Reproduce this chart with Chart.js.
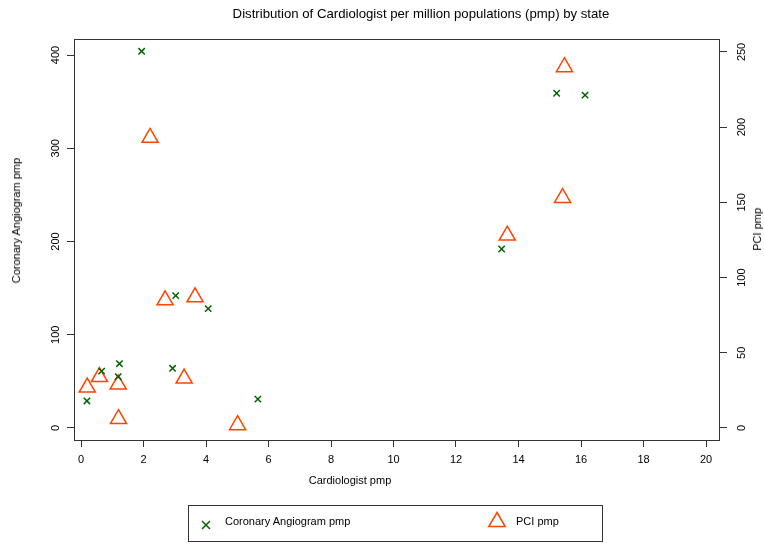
<!DOCTYPE html>
<html lang="en">
<head>
    <meta charset="UTF-8">
    <title>Cardiologist pmp by state</title>
    <script src="https://cdn.jsdelivr.net/npm/chart.js"></script>
    <style>
        body { margin: 0; background: #fff; }
        #wrap { position: relative; width: 764px; height: 546px; font-family: "Liberation Sans", Arial, sans-serif; color: #000; }
        #grafico { position: absolute; left: 0; top: 0; }
        .txt { position: absolute; white-space: nowrap; font-size: 11px; line-height: 1; }
        .vert { writing-mode: vertical-rl; transform: rotate(180deg); }
        #titulo { left: 421px; top: 7px; transform: translateX(-50%); font-size: 13.2px; }
        #tituloX { left: 350px; top: 475px; transform: translateX(-50%); }
        #tituloY { left: 11px; top: 158px; }
        #tituloY2 { left: 752px; top: 208px; }
        #legenda { position: absolute; left: 188px; top: 505px; width: 413px; height: 35px; border: 1px solid #333; }
        #legenda svg { position: absolute; }
    </style>
</head>
<body>
    <div id="wrap">
        <canvas id="grafico" width="764" height="546"></canvas>
        <div class="txt" id="titulo">Distribution of Cardiologist per million populations (pmp) by state</div>
        <div class="txt" id="tituloX">Cardiologist pmp</div>
        <div class="txt vert" id="tituloY">Coronary Angiogram pmp</div>
        <div class="txt vert" id="tituloY2">PCI pmp</div>
        <div id="legenda">
            <svg style="left:12px; top:14px" width="10" height="10">
                <path d="M1 1 L9 9 M9 1 L1 9" stroke="#006400" stroke-width="1.5" />
            </svg>
            <div class="txt" style="left:36px; top:10px">Coronary Angiogram pmp</div>
            <svg style="left:298px; top:5px" width="20" height="18">
                <path d="M10 1.5 L18.2 15.5 L1.8 15.5 Z" fill="none" stroke="#ff4500" stroke-width="1.5" />
            </svg>
            <div class="txt" style="left:327px; top:10px">PCI pmp</div>
        </div>
    </div>

<script>
    // valores
    const cardioAngio = [0.19, 0.66, 1.19, 1.23, 1.94, 2.93, 3.03, 4.07, 5.66, 13.46, 15.22, 16.13];
    const angiograma = [29, 61, 55, 69, 404, 64, 142, 128, 31, 192, 359, 357];

    const cardioPci = [0.20, 0.59, 1.19, 1.20, 2.21, 2.69, 3.30, 3.65, 5.01, 13.64, 15.41, 15.47];
    const pci = [27, 34, 29, 6, 193, 85, 33, 87, 2, 128, 153, 240];

    const ticksX = [0, 2, 4, 6, 8, 10, 12, 14, 16, 18, 20];
    const ticksY = [0, 100, 200, 300, 400];
    const ticksY2 = [0, 50, 100, 150, 200, 250];

    function juntar(xs, ys) {
        let pontos = [];
        for (let i = 0; i < xs.length; i++) {
            pontos.push({ x: xs[i], y: ys[i] });
        }
        return pontos;
    }

    function fixarTicks(lista) {
        return function (scale) {
            scale.ticks = lista.map(v => ({ value: v }));
        };
    }

    const corEixo = '#333';

    // caixa + rotulos verticais dos eixos y
    const desenharEixos = {
        id: 'desenharEixos',
        afterDraw(chart) {
            const ctx = chart.ctx;
            const area = chart.chartArea;
            ctx.save();
            ctx.strokeStyle = corEixo;
            ctx.lineWidth = 1;
            ctx.strokeRect(area.left + 0.5, area.top + 0.5, area.right - area.left - 1, area.bottom - area.top);
            ctx.fillStyle = '#000';
            ctx.font = '11px "Liberation Sans", Arial, sans-serif';
            ctx.textAlign = 'center';
            ctx.textBaseline = 'middle';
            const eixos = [['y', ticksY, 56], ['y2', ticksY2, 742]];
            eixos.forEach(function (e) {
                const escala = chart.scales[e[0]];
                e[1].forEach(function (v) {
                    ctx.save();
                    ctx.translate(e[2], escala.getPixelForValue(v));
                    ctx.rotate(-Math.PI / 2);
                    ctx.fillText(String(v), 0, 0);
                    ctx.restore();
                });
            });
            ctx.restore();
        }
    };

    const gradeEixo = { display: true, drawOnChartArea: false, drawTicks: true, tickLength: 7, color: corEixo };

    const config = {
        type: 'scatter',
        data: {
            datasets: [{
                label: 'Coronary Angiogram pmp',
                data: juntar(cardioAngio, angiograma),
                yAxisID: 'y',
                pointStyle: 'crossRot',
                pointRadius: 4.5,
                pointBorderColor: '#006400',
                pointBorderWidth: 1.5,
                pointBackgroundColor: '#006400'
            }, {
                label: 'PCI pmp',
                data: juntar(cardioPci, pci),
                yAxisID: 'y2',
                pointStyle: 'triangle',
                pointRadius: 9.3,
                pointBorderColor: '#ff4500',
                pointBorderWidth: 1.5,
                pointBackgroundColor: 'rgba(0,0,0,0)'
            }]
        },
        options: {
            responsive: false,
            animation: false,
            layout: { padding: { left: 0, right: 0, top: 39, bottom: 0 } },
            plugins: {
                legend: { display: false },
                tooltip: { enabled: false }
            },
            scales: {
                x: {
                    type: 'linear',
                    min: -0.224,
                    max: 20.448,
                    afterBuildTicks: fixarTicks(ticksX),
                    afterFit: function (s) { s.height = 106; },
                    grid: gradeEixo,
                    border: { display: false },
                    ticks: {
                        color: '#000',
                        padding: 6,
                        maxRotation: 0,
                        font: { family: '"Liberation Sans", Arial, sans-serif', size: 11 }
                    }
                },
                y: {
                    type: 'linear',
                    position: 'left',
                    min: -12.87,
                    max: 417.2,
                    afterBuildTicks: fixarTicks(ticksY),
                    afterFit: function (s) { s.width = 74; },
                    grid: gradeEixo,
                    border: { display: false },
                    ticks: { display: false }
                },
                y2: {
                    type: 'linear',
                    position: 'right',
                    min: -7.98,
                    max: 258.6,
                    afterBuildTicks: fixarTicks(ticksY2),
                    afterFit: function (s) { s.width = 44; },
                    grid: gradeEixo,
                    border: { display: false },
                    ticks: { display: false }
                }
            }
        },
        plugins: [desenharEixos]
    };

    let myChart = new Chart(document.getElementById('grafico'), config);
</script>
</body>
</html>
